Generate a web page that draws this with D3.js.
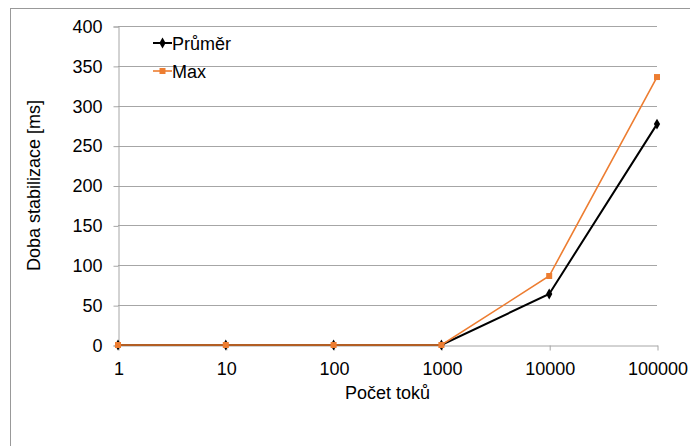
<!DOCTYPE html>
<html>
<head>
<meta charset="utf-8">
<script src="https://cdn.jsdelivr.net/npm/d3@7"></script>
<style>
  html, body { margin: 0; padding: 0; background: #fff; }
  svg { display: block; font-family: "Liberation Sans", Arial, sans-serif; }
</style>
</head>
<body>
<svg id="chart" width="690" height="446"></svg>
<script>
// Stabilisation time vs. number of flows
const categories = ["1", "10", "100", "1000", "10000", "100000"];
const prumer = [0, 0, 0, 0, 64, 277];
const maxValues = [0, 0, 0, 0, 86.5, 336];
const yTicks = [0, 50, 100, 150, 200, 250, 300, 350, 400];
const seriesNames = ["Průměr", "Max"];

const svg = d3.select("#chart");
const W = 690, H = 446;
const m = { left: 118, right: 33, top: 26, bottom: 101 };
const FONT = "18px";

// outer frame
svg.append("rect")
  .attr("x", 10.5).attr("y", 8.5)
  .attr("width", W + 20).attr("height", H + 20)
  .attr("fill", "#fff").attr("stroke", "#999").attr("stroke-width", 1);

const x = d3.scalePoint().domain(categories).range([m.left, W - m.right]);
const y = d3.scaleLinear().domain([0, 400]).range([H - m.bottom, m.top]);

// horizontal grid
svg.append("g").selectAll("line").data(yTicks.filter(d => d > 0)).join("line")
  .attr("x1", m.left).attr("x2", W - m.right)
  .attr("y1", d => Math.round(y(d)) + 0.5).attr("y2", d => Math.round(y(d)) + 0.5)
  .attr("stroke", "#a6a6a6").attr("stroke-width", 1);

// y axis
const yAxis = svg.append("g")
  .attr("transform", `translate(${m.left + 0.5},0.5)`)
  .call(d3.axisLeft(y).tickValues(yTicks).tickSize(5).tickPadding(11));
yAxis.select(".domain").attr("stroke", "#a6a6a6");
yAxis.selectAll(".tick line").attr("stroke", "#a6a6a6");
yAxis.selectAll(".tick text").attr("fill", "#000").style("font-size", FONT)
  .style("font-family", "Liberation Sans, Arial, sans-serif");

// x axis
const xAxis = svg.append("g")
  .attr("transform", `translate(0.5,${Math.round(y(0)) + 0.5})`)
  .call(d3.axisBottom(x).tickSize(5).tickPadding(12).tickSizeOuter(0));
xAxis.select(".domain").attr("stroke", "#a6a6a6");
xAxis.selectAll(".tick line").attr("stroke", "#a6a6a6");
xAxis.selectAll(".tick text").attr("fill", "#000").style("font-size", FONT)
  .style("font-family", "Liberation Sans, Arial, sans-serif");

// axis titles
svg.append("text")
  .attr("transform", `translate(40,${(m.top + H - m.bottom) / 2}) rotate(-90)`)
  .attr("text-anchor", "middle")
  .style("font-size", FONT)
  .text("Doba stabilizace [ms]");
svg.append("text")
  .attr("x", (m.left + W - m.right) / 2).attr("y", 399)
  .attr("text-anchor", "middle")
  .style("font-size", FONT)
  .text("Počet toků");

const line = d3.line().x((d, i) => x(categories[i])).y(d => y(d));
const black = "#000000", orange = "#ED7D31";
const diamond = d3.symbol().type(d3.symbolDiamond).size(34);
const square = d3.symbol().type(d3.symbolSquare).size(36);

// Průměr series
svg.append("path").datum(prumer)
  .attr("d", line).attr("fill", "none")
  .attr("stroke", black).attr("stroke-width", 2);
svg.append("g").selectAll("path").data(prumer).join("path")
  .attr("transform", (d, i) => `translate(${x(categories[i])},${y(d)})`)
  .attr("d", diamond).attr("fill", black);

// Max series
svg.append("path").datum(maxValues)
  .attr("d", line).attr("fill", "none")
  .attr("stroke", orange).attr("stroke-width", 1.6);
svg.append("g").selectAll("path").data(maxValues).join("path")
  .attr("transform", (d, i) => `translate(${x(categories[i])},${y(d)})`)
  .attr("d", square).attr("fill", orange);

// legend
const legend = svg.append("g").attr("transform", "translate(153,0)");
const legendItems = [
  { name: seriesNames[0], color: black, sym: diamond, w: 2, yy: 43 },
  { name: seriesNames[1], color: orange, sym: square, w: 1.6, yy: 71 }
];
legendItems.forEach(it => {
  legend.append("line").attr("x1", 0).attr("x2", 19)
    .attr("y1", it.yy).attr("y2", it.yy)
    .attr("stroke", it.color).attr("stroke-width", it.w);
  legend.append("path").attr("transform", `translate(9.5,${it.yy})`)
    .attr("d", it.sym).attr("fill", it.color);
  legend.append("text").attr("x", 19).attr("y", it.yy + 6.5)
    .style("font-size", FONT).text(it.name);
});
</script>
</body>
</html>
